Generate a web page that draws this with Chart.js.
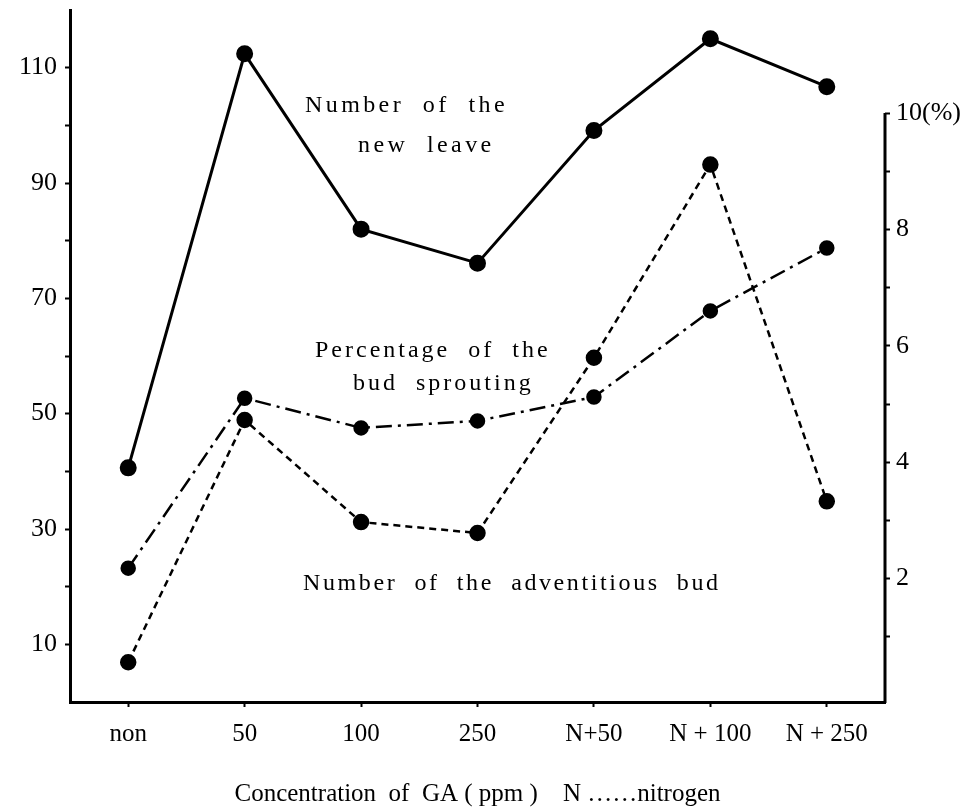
<!DOCTYPE html>
<html>
<head>
<meta charset="utf-8">
<script src="https://cdn.jsdelivr.net/npm/chart.js@4.4.1/dist/chart.umd.min.js"></script>
<style>
  html, body { margin: 0; padding: 0; background: #fff; }
  #wrap { width: 967px; height: 809px; }
</style>
</head>
<body>
<div id="wrap"><canvas id="chart"></canvas></div>
<script>
// concentration of GA (ppm), N = nitrogen
const concentrations = ["non", "50", "100", "250", "N+50", "N + 100", "N + 250"];
// left axis
const newLeaves = [40.6, 112.4, 82.0, 76.1, 99.1, 115.0, 106.7];
const adventitiousBuds = [6.9, 48.9, 31.2, 29.3, 59.7, 93.2, 34.8];
// right axis (%)
const budSprouting = [2.18, 5.10, 4.59, 4.71, 5.12, 6.60, 7.68];

const leftLabels = [10, 30, 50, 70, 90, 110];
const rightLabels = [2, 4, 6, 8, 10];

const serif = "'Liberation Serif', 'DejaVu Serif', serif";

// free text written inside the plot
const notes = [
    { lines: ["Number  of  the", "new  leave"], x: [305, 358], y: [112, 152], spacing: '3.4px' },
    { lines: ["Percentage  of  the", "bud  sprouting"], x: [315, 353], y: [357, 390], spacing: '3px' },
    { lines: ["Number  of  the  adventitious  bud"], x: [303], y: [590], spacing: '2.6px' }
];

const notesPlugin = {
    id: 'notes',
    afterDraw(chart) {
        const ctx = chart.ctx;
        ctx.save();
        ctx.fillStyle = '#000';
        ctx.font = "24px " + serif;
        ctx.textBaseline = 'alphabetic';
        ctx.textAlign = 'left';
        notes.forEach(n => {
            ctx.letterSpacing = n.spacing;
            n.lines.forEach((t, i) => ctx.fillText(t, n.x[i], n.y[i]));
        });
        ctx.letterSpacing = '0px';
        ctx.restore();

        // right axis line only runs from 0 to 10 %
        const r = chart.scales.y1;
        ctx.save();
        ctx.strokeStyle = '#000';
        ctx.lineWidth = 3;
        ctx.beginPath();
        ctx.moveTo(r.left, r.getPixelForValue(10));
        ctx.lineTo(r.left, chart.chartArea.bottom + 1);
        ctx.stroke();
        ctx.restore();
    }
};

const data = {
    labels: concentrations,
    datasets: [
        {
            label: "Number of the new leave",
            data: newLeaves,
            yAxisID: 'y',
            borderColor: '#000',
            backgroundColor: '#000',
            borderWidth: 3,
            pointRadius: 7,
        },
        {
            label: "Number of the adventitious bud",
            data: adventitiousBuds,
            yAxisID: 'y',
            borderColor: '#000',
            backgroundColor: '#000',
            borderWidth: 2.5,
            borderDash: [7, 5],
            pointRadius: 7,
        },
        {
            label: "Percentage of the bud sprouting",
            data: budSprouting,
            yAxisID: 'y1',
            borderColor: '#000',
            backgroundColor: '#000',
            borderWidth: 2.5,
            borderDash: [16, 6, 3, 6],
            pointRadius: 6.5,
        }
    ]
};

const config = {
    type: 'line',
    data: data,
    options: {
        responsive: true,
        maintainAspectRatio: false,
        animation: false,
        layout: { padding: { top: 10, left: 0, right: 0, bottom: 0 } },
        plugins: {
            legend: { display: false },
            tooltip: { enabled: false }
        },
        scales: {
            x: {
                offset: true,
                grid: { display: true, drawOnChartArea: false, offset: false, tickLength: 5, tickColor: '#000', tickWidth: 2 },
                border: { display: true, color: '#000', width: 3 },
                ticks: { color: '#000', font: { family: serif, size: 25 }, padding: 12, maxRotation: 0, autoSkip: false },
                title: {
                    display: true,
                    text: "Concentration  of  GA ( ppm )    N ……nitrogen",
                    color: '#000',
                    font: { family: serif, size: 25 },
                    padding: { top: 0, bottom: 0 }
                },
                afterFit(scale) {
                    scale.height = 107;
                    scale.paddingLeft = 0;
                    scale.paddingRight = 0;
                }
            },
            y: {
                position: 'left',
                min: 0,
                max: 120,
                grid: { display: true, drawOnChartArea: false, tickLength: 5, tickColor: '#000', tickWidth: 2 },
                border: { display: true, color: '#000', width: 3 },
                ticks: {
                    stepSize: 10,
                    color: '#000',
                    font: { family: serif, size: 26 },
                    padding: 8,
                    callback: v => leftLabels.includes(v) ? String(v) : ''
                },
                afterBuildTicks(scale) {
                    scale.ticks = scale.ticks.filter(t => t.value > 0 && t.value < 120);
                },
                afterFit(scale) {
                    scale.width = 70;
                    scale.paddingTop = 0;
                    scale.paddingBottom = 0;
                }
            },
            y1: {
                position: 'right',
                min: -0.12,
                max: 11.77,
                grid: { display: true, drawOnChartArea: false, tickLength: 5, tickColor: '#000', tickWidth: 2 },
                border: { display: false },
                ticks: {
                    stepSize: 1,
                    includeBounds: false,
                    color: '#000',
                    font: { family: serif, size: 26 },
                    padding: 6,
                    callback: v => v === 10 ? '10(%)' : (rightLabels.includes(v) ? String(v) : '')
                },
                afterBuildTicks(scale) {
                    scale.ticks = scale.ticks.filter(t => t.value >= 1 && t.value <= 10);
                },
                afterFit(scale) {
                    scale.width = 82;
                    scale.paddingTop = 0;
                    scale.paddingBottom = 0;
                }
            }
        }
    },
    plugins: [notesPlugin]
};

new Chart(document.getElementById("chart"), config);
</script>
</body>
</html>
